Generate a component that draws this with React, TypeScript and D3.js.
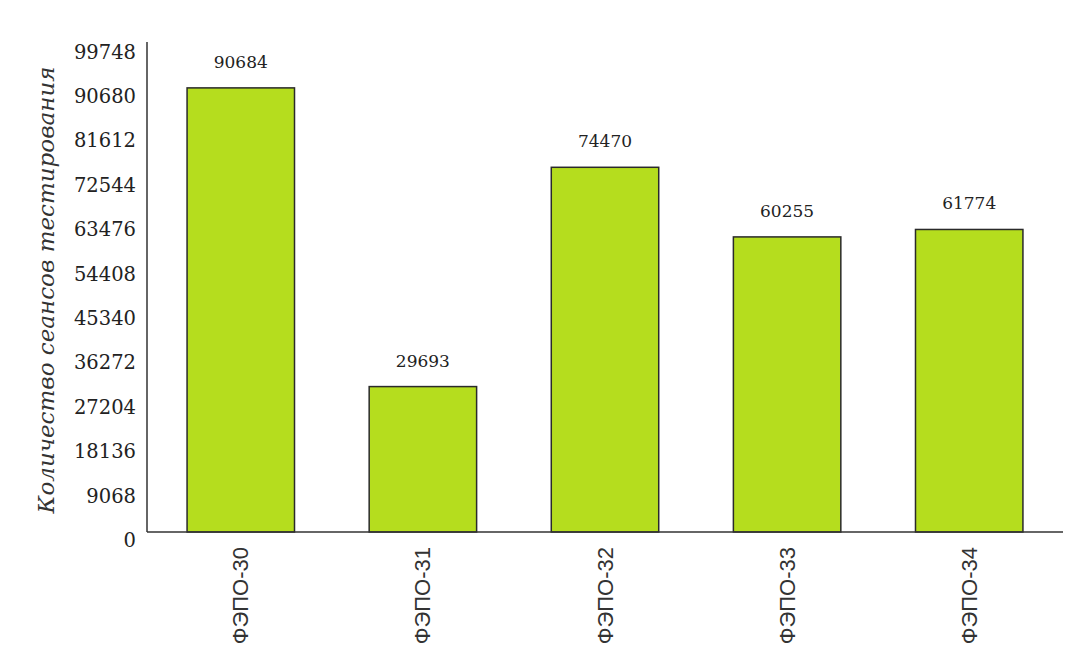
import React from "react";
import * as d3 from "d3";

const categories = ["ФЭПО-30", "ФЭПО-31", "ФЭПО-32", "ФЭПО-33", "ФЭПО-34"];
const values = [90684, 29693, 74470, 60255, 61774];
const yTicks = [0, 9068, 18136, 27204, 36272, 45340, 54408, 63476, 72544, 81612, 90680, 99748];
const yTitle = "Количество сеансов тестирования";

const W = 1067;
const H = 666;

export default function App() {
  const x = d3
    .scaleBand<string>()
    .domain(categories)
    .range([147, 1063])
    .paddingInner(0.41)
    .paddingOuter(0.22);
  const y = d3.scaleLinear().domain([0, 99748]).range([532, 43.5]);

  return (
    <svg
      width={W}
      height={H}
      style={{ position: "absolute", left: 0, top: 0, background: "#fff" }}
    >
      <rect x={0} y={0} width={W} height={H} fill="#fff" />
      {/* bars */}
      {categories.map((c, i) => (
        <rect
          key={c}
          x={x(c)}
          y={y(values[i])}
          width={x.bandwidth()}
          height={y(0) - y(values[i])}
          fill="#b5dd1e"
          stroke="#2a2a2a"
          strokeWidth={1.5}
        />
      ))}
      {/* value labels */}
      {categories.map((c, i) => (
        <text
          key={c + "v"}
          x={(x(c) as number) + x.bandwidth() / 2}
          y={y(values[i]) - 20}
          textAnchor="middle"
          fontFamily="DejaVu Serif"
          fontSize={17}
          fill="#222"
        >
          {values[i]}
        </text>
      ))}
      {/* axes */}
      <line x1={147} x2={147} y1={42} y2={532} stroke="#333" strokeWidth={1.5} />
      <line x1={147} x2={1063} y1={532} y2={532} stroke="#333" strokeWidth={1.5} />
      {/* y tick labels */}
      {yTicks.map((t) => (
        <text
          key={t}
          x={136}
          y={y(t) + 8.5}
          textAnchor="end"
          dominantBaseline="central"
          fontFamily="DejaVu Serif"
          fontSize={19.5}
          fill="#222"
        >
          {t}
        </text>
      ))}
      {/* x labels */}
      {categories.map((c) => {
        const cx = (x(c) as number) + x.bandwidth() / 2;
        return (
          <text
            key={c + "x"}
            transform={`translate(${cx},${547}) rotate(-90)`}
            textAnchor="end"
            dominantBaseline="central"
            fontFamily="Liberation Sans"
            fontSize={22}
            fill="#333"
          >
            {c}
          </text>
        );
      })}
      {/* y title */}
      <text
        transform={`translate(46,${290}) rotate(-90)`}
        textAnchor="middle"
        dominantBaseline="central"
        fontFamily="DejaVu Serif"
        fontStyle="italic"
        fontSize={23}
        fill="#333"
      >
        {yTitle}
      </text>
    </svg>
  );
}
